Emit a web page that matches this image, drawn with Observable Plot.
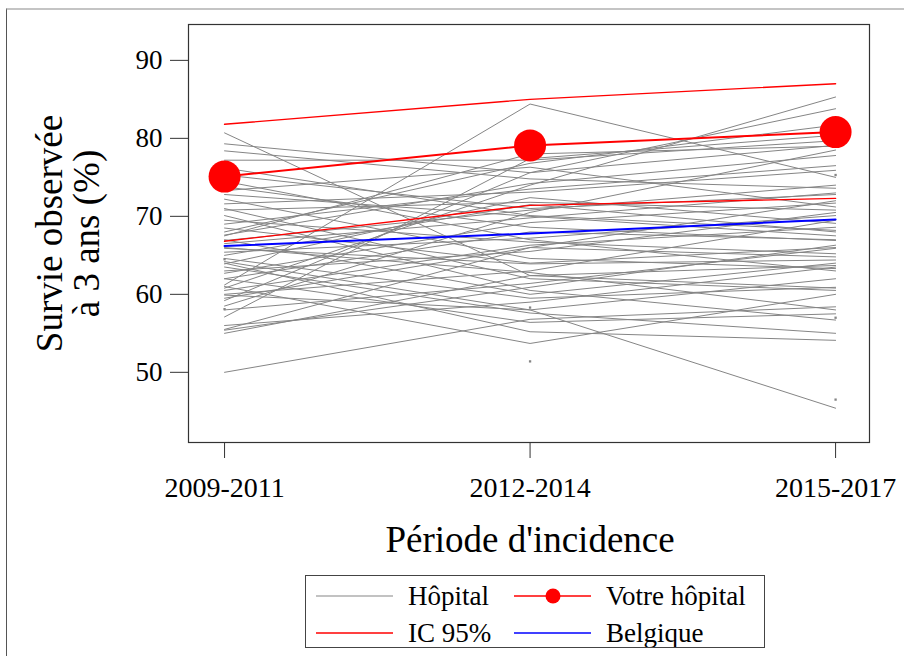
<!DOCTYPE html>
<html>
<head>
<meta charset="utf-8">
<script src="https://cdn.jsdelivr.net/npm/d3@7"></script>
<script src="https://cdn.jsdelivr.net/npm/@observablehq/plot@0.6"></script>
<style>
  html, body { margin: 0; padding: 0; background: white; }
  #wrap { position: relative; width: 904px; height: 656px; overflow: hidden; background: white; }
  #outer { position: absolute; left: 6px; top: 8px; width: 1000px; height: 1000px;
           border-top: 2px solid #c4c4c4; border-left: 1px solid #555; pointer-events: none; }
  #legend { position: absolute; left: 305px; top: 575px; width: 458px; height: 71px;
            border: 1px solid #444; background: white; }
  #legend svg { display: block; }
</style>
</head>
<body>
<div id="wrap">
  <div id="chart"></div>
  <div id="outer"></div>
  <div id="legend"></div>
</div>
<script>
const periods = ["2009-2011", "2012-2014", "2015-2017"];

// Each hospital: value in 2009-2011, 2012-2014, 2015-2017
const hop2009 = [80.7, 79.3, 78.4, 77.2, 76.2, 73.8, 73.3, 72.2, 71.6, 70.8,
                 70.1, 69.5, 68.0, 67.6, 66.9, 65.9, 65.4, 64.6, 63.9, 63.5,
                 62.7, 61.2, 60.5, 59.9, 59.2, 58.0, 57.1, 55.4, 55.0, 50.0,
                 75.3, 74.5, 72.8, 71.0, 69.0, 68.5, 67.0, 66.5, 65.0, 64.0,
                 63.0, 62.0, 61.0, 60.0, 59.5, 58.5, 56.0, 55.5, 64.2, 67.5,
                 60.8, 66.0, 62.0];
const hop2012 = [62.4, 75.6, 74.8, 77.2, 70.1, 68.6, 76.3, 64.6, 73.1, 71.8,
                 60.5, 66.7, 76.8, 74.2, 70.8, 63.9, 67.2, 59.5, 72.4, 57.6,
                 69.2, 84.4, 66.3, 58.0, 75.6, 61.4, 77.4, 60.9, 62.4, 56.8,
                 71.0, 67.0, 70.0, 62.0, 73.5, 64.0, 60.0, 69.8, 71.5, 55.2,
                 65.5, 68.0, 53.7, 63.0, 66.0, 70.5, 59.0, 66.0, 58.0, 78.0,
                 74.0, 62.8, 56.4];
const hop2015 = [60.8, 79.1, 73.6, 79.7, 68.2, 66.9, 71.2, 63.3, 75.9, 70.8,
                 56.7, 65.2, 81.7, 77.8, 74.0, 64.4, 70.1, 60.9, 69.1, 55.0,
                 71.7, 75.0, 68.6, 45.4, 83.8, 65.9, 80.4, 66.3, 63.7, 58.4,
                 72.8, 63.0, 67.5, 60.5, 76.5, 66.0, 64.0, 73.0, 68.0, 54.1,
                 70.5, 67.0, 60.0, 69.5, 72.0, 78.5, 63.5, 64.8, 62.0, 79.0,
                 85.3, 58.0, 57.5];

// Hospitals with a single available period
const singlePeriod = [0, 0, 1, 1, 2, 2, 2];
const singleValue  = [64.5, 58.1, 51.4, 58.3, 75.3, 57.0, 46.5];

const ciLow    = [66.8, 71.4, 72.3];
const ciHigh   = [81.8, 85.0, 87.0];
const votre    = [75.1, 79.1, 80.8];
const belgique = [66.2, 67.8, 69.6];

const yTicks = [50, 60, 70, 80, 90];

const hosp = [];
hop2009.forEach((v, i) => {
  [hop2009[i], hop2012[i], hop2015[i]].forEach((val, j) => hosp.push({h: i, x: j, y: val}));
});
const singles = singlePeriod.map((p, i) => ({x: p, y: singleValue[i]}));
const series = arr => arr.map((v, j) => ({x: j, y: v}));

const serif = "'Liberation Serif', 'DejaVu Serif', serif";

const chart = Plot.plot({
  width: 904,
  height: 568,
  marginLeft: 188,
  marginRight: 35,
  marginTop: 24,
  marginBottom: 126,
  style: {fontFamily: serif, fontSize: "27px", color: "black", background: "transparent", overflow: "visible"},
  x: {domain: [-0.118, 2.111], label: null},
  y: {domain: [41.0, 94.6], label: null},
  marks: [
    Plot.line(hosp, {x: "x", y: "y", z: "h", stroke: "#858585", strokeWidth: 1}),
    Plot.dot(singles, {x: "x", y: "y", r: 1.3, fill: "#858585", symbol: "square"}),
    Plot.line(series(ciHigh), {x: "x", y: "y", stroke: "#ff0000", strokeWidth: 1.4}),
    Plot.line(series(ciLow), {x: "x", y: "y", stroke: "#ff0000", strokeWidth: 1.4}),
    Plot.line(series(belgique), {x: "x", y: "y", stroke: "#0000ff", strokeWidth: 2}),
    Plot.line(series(votre), {x: "x", y: "y", stroke: "#ff0000", strokeWidth: 2}),
    Plot.dot(series(votre), {x: "x", y: "y", r: 16, fill: "#ff0000", stroke: null}),
    Plot.frame({stroke: "#333", strokeWidth: 1.2}),
    Plot.axisX({ticks: [0, 1, 2], tickFormat: i => periods[i], tickSize: 16, tickPadding: 19,
                fontSize: 28, label: null, stroke: "#333"}),
    Plot.axisY({ticks: yTicks, tickSize: 18, tickPadding: 8, fontSize: 27, label: null, stroke: "#333"}),
    Plot.text(["Période d'incidence"], {x: 1, frameAnchor: "bottom", dy: 98, fontSize: 37,
              lineAnchor: "middle", fill: "black"}),
    Plot.text(["Survie observée\nà 3 ans (%)"], {frameAnchor: "left", dx: -120, dy: 0, rotate: -90,
              fontSize: 37, lineHeight: 1.02, lineAnchor: "middle", textAnchor: "middle", fill: "black"})
  ]
});
document.getElementById("chart").appendChild(chart);

// Legend (HTML/SVG below the chart)
const legendItems = [
  {label: "Hôpital", color: "#858585", w: 1, dot: false, col: 0, row: 0},
  {label: "Votre hôpital", color: "#ff0000", w: 1.4, dot: true, col: 1, row: 0},
  {label: "IC 95%", color: "#ff0000", w: 1.4, dot: false, col: 0, row: 1},
  {label: "Belgique", color: "#0000ff", w: 1.4, dot: false, col: 1, row: 1}
];
const lg = d3.select("#legend").append("svg").attr("width", 458).attr("height", 71);
const colX = [10, 208];
const rowY = [20, 57];
legendItems.forEach(it => {
  const x0 = colX[it.col], y0 = rowY[it.row];
  lg.append("line").attr("x1", x0).attr("x2", x0 + 77).attr("y1", y0).attr("y2", y0)
    .attr("stroke", it.color).attr("stroke-width", it.w);
  if (it.dot) lg.append("circle").attr("cx", x0 + 39).attr("cy", y0).attr("r", 7.5).attr("fill", it.color);
  lg.append("text").attr("x", x0 + 92).attr("y", y0).attr("dy", "0.35em")
    .attr("font-family", serif).attr("font-size", 27).attr("fill", "black").text(it.label);
});
</script>
</body>
</html>
